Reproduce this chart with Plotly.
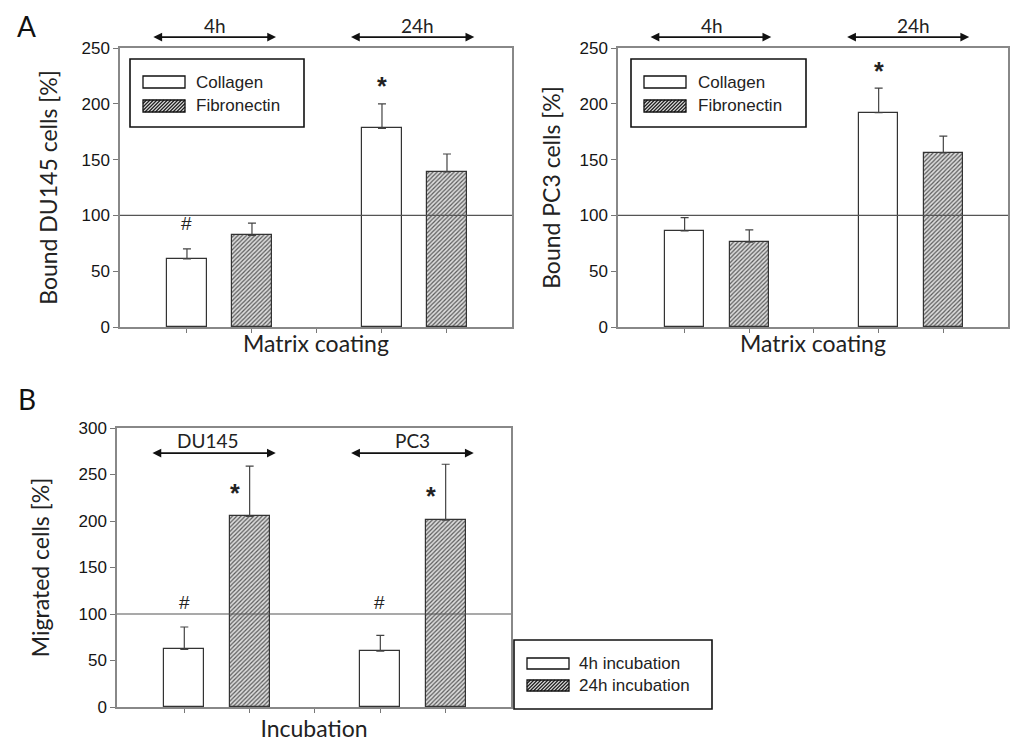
import plotly.graph_objects as go

# ---------------- data ----------------
groups_A = ["4h", "24h"]
du145_collagen = [61, 178]
du145_collagen_err = [9, 22]
du145_fibronectin = [82, 139]
du145_fibronectin_err = [11, 16]

pc3_collagen = [86, 192]
pc3_collagen_err = [12, 22]
pc3_fibronectin = [76, 156]
pc3_fibronectin_err = [11, 15]

groups_B = ["DU145", "PC3"]
mig_4h = [62, 60]
mig_4h_err = [24, 17]
mig_24h = [205, 201]
mig_24h_err = [54, 60]

# ---------------- helpers ----------------
W, H = 1016, 742
def px(x): return x / W
def py(y): return 1 - y / H

FONT_T = "Lato, 'Open Sans', sans-serif"
FONT_A = "'Liberation Sans', Arial, sans-serif"
BAR_W = 0.61
EDGE = "#333333"

fig = go.Figure()

def pos(i, k):
    # group i, member k -> numeric slot (gap slot between groups)
    return i * 3 + k

def add_pair(vals1, err1, vals2, err2, xa, ya, name1, name2):
    n = len(vals1)
    fig.add_trace(go.Bar(
        x=[pos(i, 0) for i in range(n)], y=vals1, width=BAR_W, name=name1,
        marker=dict(color="white", line=dict(color=EDGE, width=1.2)),
        error_y=dict(type="data", array=err1, arrayminus=[0] * n, symmetric=False,
                     color="#444", thickness=1.2, width=4),
        xaxis=xa, yaxis=ya, showlegend=False))
    fig.add_trace(go.Bar(
        x=[pos(i, 1) for i in range(n)], y=vals2, width=BAR_W, name=name2,
        marker=dict(color="#d0d0d0", line=dict(color=EDGE, width=1.2),
                    pattern=dict(shape="/", size=3, solidity=0.4,
                                 fgcolor="#5a5a5a", bgcolor="#dcdcdc", fillmode="replace")),
        error_y=dict(type="data", array=err2, arrayminus=[0] * n, symmetric=False,
                     color="#444", thickness=1.2, width=4),
        xaxis=xa, yaxis=ya, showlegend=False))

add_pair(du145_collagen, du145_collagen_err, du145_fibronectin, du145_fibronectin_err,
         "x", "y", "Collagen", "Fibronectin")
add_pair(pc3_collagen, pc3_collagen_err, pc3_fibronectin, pc3_fibronectin_err,
         "x2", "y2", "Collagen", "Fibronectin")
add_pair(mig_4h, mig_4h_err, mig_24h, mig_24h_err,
         "x3", "y3", "4h incubation", "24h incubation")

xcommon = dict(range=[-1.03, 5.0], tickvals=[0, 1, 2, 3, 4], ticktext=[""] * 5,
               ticks="outside", ticklen=4, tickcolor="#777", showline=True,
               linecolor="#888", linewidth=1.5, mirror=True, showgrid=False,
               zeroline=False, automargin=False)
ycommon = dict(dtick=50, ticks="outside", ticklen=5, tickcolor="#777", showline=True,
               linecolor="#888", linewidth=1.5, mirror=True, showgrid=False,
               zeroline=False, automargin=False,
               tickfont=dict(family=FONT_A, size=17, color="#151515"))
xtf = dict(family=FONT_T, size=23, color="#222")
ytf = dict(family=FONT_T, size=23, color="#222")

fig.update_layout(
    width=W, height=H, margin=dict(l=0, r=0, t=0, b=0),
    paper_bgcolor="white", plot_bgcolor="white", bargap=0,
    xaxis=dict(xcommon, domain=[px(120), px(512)], anchor="y",
               title=dict(text="Matrix coating", font=xtf, standoff=2)),
    yaxis=dict(ycommon, domain=[py(327), py(48)], anchor="x", range=[0, 250],
               title=dict(text="Bound DU145 cells [%]", font=ytf, standoff=17)),
    xaxis2=dict(xcommon, domain=[px(618), px(1008)], anchor="y2",
                title=dict(text="Matrix coating", font=xtf, standoff=2)),
    yaxis2=dict(ycommon, domain=[py(327), py(48)], anchor="x2", range=[0, 250],
                title=dict(text="Bound PC3 cells [%]", font=ytf, standoff=12)),
    xaxis3=dict(xcommon, domain=[px(117), px(511)], anchor="y3",
                title=dict(text="Incubation", font=xtf, standoff=10)),
    yaxis3=dict(ycommon, domain=[py(707), py(428)], anchor="x3", range=[0, 300],
                title=dict(text="Migrated cells [%]", font=ytf, standoff=22)),
)

shapes = []
annots = []

# reference line at 100 %
for xa, ya in [("x", "y"), ("x2", "y2"), ("x3", "y3")]:
    shapes.append(dict(type="line", xref=f"{xa} domain", yref=ya, x0=0, x1=1, y0=100, y1=100,
                       line=dict(color="#555", width=1.2), layer="above"))

# double headed arrows with labels
def dbl_arrow(xa, yr, x0, x1, yv, label, xl, yl):
    annots.append(dict(xref=xa, yref=yr, axref=xa, ayref=yr, x=x1, y=yv, ax=x0, ay=yv,
                       text="", showarrow=True, arrowhead=2, startarrowhead=2,
                       arrowside="end+start", arrowsize=1.1, startarrowsize=1.1,
                       arrowwidth=1.6, arrowcolor="#111"))
    annots.append(dict(xref=xa, yref=yr, x=xl, y=yl, text=label, showarrow=False,
                       xanchor="center", yanchor="middle",
                       font=dict(family=FONT_T, size=19, color="#222")))

dbl_arrow("x", "y domain", -0.54, 1.37, 1.039, groups_A[0], 0.43, 1.082)
dbl_arrow("x", "y domain", 2.5, 4.42, 1.039, groups_A[1], 3.54, 1.082)
dbl_arrow("x2", "y2 domain", -0.55, 1.34, 1.039, groups_A[0], 0.42, 1.082)
dbl_arrow("x2", "y2 domain", 2.49, 4.40, 1.039, groups_A[1], 3.54, 1.082)
dbl_arrow("x3", "y3", -0.51, 1.40, 273, groups_B[0], 0.36, 287)
dbl_arrow("x3", "y3", 2.53, 4.43, 273, groups_B[1], 3.5, 287)

# significance marks
def mark(xa, ya, x, y, t, size):
    annots.append(dict(xref=xa, yref=ya, x=x, y=y, text=t, showarrow=False,
                       xanchor="center", yanchor="middle",
                       font=dict(family=FONT_A, size=size, color="#222")))

mark("x", "y", 3.0, 216, "<b>*</b>", 25)
mark("x", "y", 0.0, 93, "#", 19)
mark("x2", "y2", 3.0, 229, "<b>*</b>", 25)
mark("x3", "y3", 0.78, 230, "<b>*</b>", 25)
mark("x3", "y3", 3.77, 227, "<b>*</b>", 25)
mark("x3", "y3", 0.0, 112, "#", 19)
mark("x3", "y3", 2.98, 112, "#", 19)

# panel letters
annots.append(dict(xref="paper", yref="paper", x=px(26), y=py(26), text="A", showarrow=False,
                   xanchor="center", yanchor="middle",
                   font=dict(family=FONT_T, size=28, color="#111")))
annots.append(dict(xref="paper", yref="paper", x=px(27), y=py(399), text="B", showarrow=False,
                   xanchor="center", yanchor="middle",
                   font=dict(family=FONT_T, size=28, color="#111")))

# custom legends (wide rectangular swatches as in the original)
def hatch_path(x0, x1, y0, y1, step=4):
    # diagonal "/" lines inside swatch, pixel coords -> paper coords
    segs = []
    h = y1 - y0
    t = -h
    while t < (x1 - x0):
        sx, sy = x0 + t, y1          # bottom-left start
        ex, ey = x0 + t + h, y0      # top-right end
        if sx < x0:
            sy = y1 - (x0 - sx); sx = x0
        if ex > x1:
            ey = y0 + (ex - x1); ex = x1
        if ex > sx:
            segs.append(f"M{px(sx):.5f},{py(sy):.5f} L{px(ex):.5f},{py(ey):.5f}")
        t += step
    return " ".join(segs)

def legend_box(bx0, bx1, by0, by1, sx0, sx1, rows, labels, tx):
    shapes.append(dict(type="rect", xref="paper", yref="paper", x0=px(bx0), x1=px(bx1),
                       y0=py(by1), y1=py(by0), line=dict(color="#111", width=1.6),
                       fillcolor="white", layer="above"))
    for k, ((ry0, ry1), lab) in enumerate(zip(rows, labels)):
        if k == 1:
            shapes.append(dict(type="rect", xref="paper", yref="paper", x0=px(sx0), x1=px(sx1),
                               y0=py(ry1), y1=py(ry0), line=dict(width=0),
                               fillcolor="#e0e0e0", layer="above"))
            shapes.append(dict(type="path", xref="paper", yref="paper",
                               path=hatch_path(sx0, sx1, ry0, ry1, 3.5),
                               line=dict(color="#222", width=1.3), layer="above"))
            shapes.append(dict(type="rect", xref="paper", yref="paper", x0=px(sx0), x1=px(sx1),
                               y0=py(ry1), y1=py(ry0), line=dict(color="#111", width=1.3),
                               fillcolor="rgba(0,0,0,0)", layer="above"))
        else:
            shapes.append(dict(type="rect", xref="paper", yref="paper", x0=px(sx0), x1=px(sx1),
                               y0=py(ry1), y1=py(ry0), line=dict(color="#111", width=1.3),
                               fillcolor="white", layer="above"))
        annots.append(dict(xref="paper", yref="paper", x=px(tx), y=py((ry0 + ry1) / 2),
                           xanchor="left", yanchor="middle", text=lab, showarrow=False,
                           font=dict(family=FONT_A, size=17, color="#222")))

legend_box(130, 304, 59, 127, 143, 185, [(76, 88), (100, 112)], ["Collagen", "Fibronectin"], 194)
legend_box(631, 806, 59, 127, 644, 686, [(76, 88), (100, 112)], ["Collagen", "Fibronectin"], 696)
legend_box(514, 712, 640, 709, 527, 569, [(658, 669), (680, 691)],
           ["4h incubation", "24h incubation"], 577)

fig.update_layout(shapes=shapes, annotations=annots)
fig.write_html("out.html")
